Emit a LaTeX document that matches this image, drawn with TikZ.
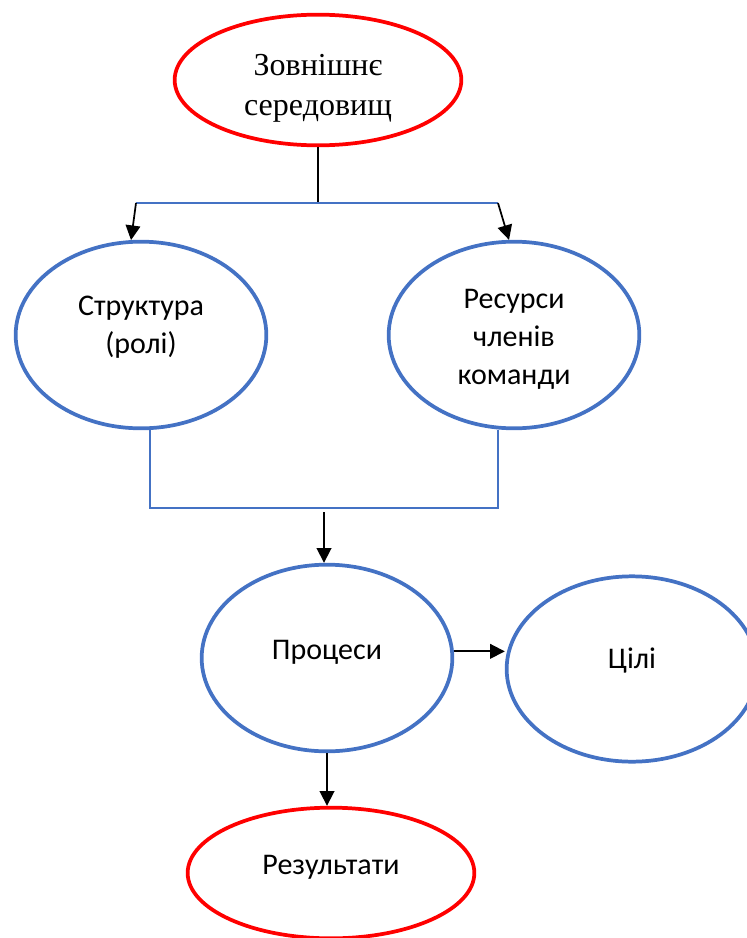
\documentclass[tikz,border=0pt]{standalone}
\usepackage{fontspec}
\setmainfont{Carlito}
\newfontfamily\timesfont{Liberation Serif}
\usetikzlibrary{shapes.geometric}
\usetikzlibrary{arrows, arrows.meta}

\definecolor{officeblue}{HTML}{4472C4}

\begin{document}
\begin{tikzpicture}[x=0.75pt, y=-0.75pt]

\useasboundingbox (0, 0) rectangle (746, 938);

% styles

\tikzstyle{oval} = [shape=ellipse, line width=2.8pt, fill=white, inner sep=0pt]
\tikzstyle{outer oval} = [oval, draw=red, minimum width=215pt, minimum height=98pt]
\tikzstyle{team oval} = [oval, draw=officeblue, minimum width=188pt, minimum height=140pt]
\tikzstyle{oval text} = [font=\fontsize{22.5}{28.5}\selectfont, align=center, inner sep=0pt]
\tikzstyle{serif text} = [oval text, font=\timesfont\fontsize{24}{30}\selectfont]
\tikzstyle{bus line} = [line width=1.2pt, color=officeblue]
\tikzstyle{flow line} = [line width=1.3pt, color=black, -{Triangle[length=11pt, width=11pt]}]

% ovals

\node [outer oval, label={[serif text, yshift=-6pt]center:{Зовнішнє\\середовищ}}] (env) at (318, 80) {};

\node [team oval, label={[oval text, yshift=6pt]center:{Структура\\(ролі)}}] (struct) at (141, 335) {};
\node [team oval, label={[oval text, yshift=-3pt]center:{Ресурси\\членів\\команди}}] (res) at (514, 335) {};

\node [team oval, label={[oval text, yshift=4pt]center:{Процеси}}] (proc) at (327, 658) {};
\node [team oval, minimum height=139pt, label={[oval text, yshift=6pt]center:{Цілі}}] (goals) at (632, 669) {};

\node [outer oval, label={[oval text, yshift=4pt]center:{Результати}}] (result) at (331, 873) {};

% upper fork

\coordinate (fork) at (318, 203);
\coordinate (fork left) at (136, 203);
\coordinate (fork right) at (498, 203);

\draw [line width=1.3pt] (env.south) -- (fork);
\draw [bus line] (fork left) -- (fork right);
\draw [flow line] (fork left) -- (struct.96);
\draw [flow line] (fork right) -- (res.93);

% lower join

\coordinate (join left) at (150, 508);
\coordinate (join right) at (498, 508);
\coordinate (join) at (324, 512);

\draw [bus line] (join left |- struct.south) -- (join left) -- (join right) -- (join right |- res.south);
\draw [flow line] (join) -- (join |- proc.north);

% processes

\draw [flow line] (proc.3) -- (proc.3 -| goals.west);
\draw [flow line] (proc.south) -- (proc.south |- result.north);

\end{tikzpicture}
\end{document}
